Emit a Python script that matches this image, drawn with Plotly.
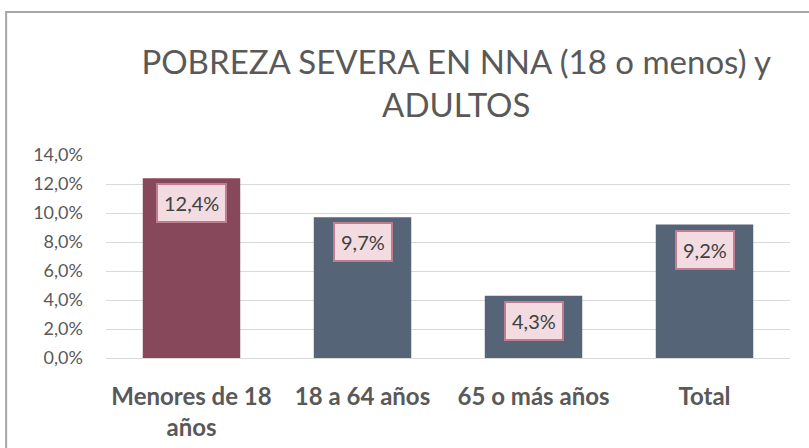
import plotly.graph_objects as go

categories = ["Menores de 18<br>años", "18 a 64 años", "65 o más años", "Total"]
values = [0.124, 0.097, 0.043, 0.092]
bar_colors = ["#86485a", "#566477", "#566477", "#566477"]
y_ticks = [0, 0.02, 0.04, 0.06, 0.08, 0.10, 0.12, 0.14]

font_family = "Lato"

fig = go.Figure()
fig.add_trace(go.Bar(
    x=categories, y=values,
    marker=dict(color=bar_colors, line=dict(width=0)),
    hoverinfo="skip",
))

for c, v in zip(categories, values):
    fig.add_annotation(
        x=c, y=v, xref="x", yref="y",
        text=f"{v*100:.1f}%".replace(".", ","),
        showarrow=False, yanchor="top", yshift=-5,
        font=dict(family=font_family, size=20, color="#404040"),
        bgcolor="#f2dce1", bordercolor="#c07d90", borderwidth=2, borderpad=6,
    )

fig.add_shape(type="rect", xref="paper", yref="paper",
              x0=-0.146, x1=1.2, y0=-0.8, y1=1.704,
              line=dict(color="#a6a6a6", width=2), fillcolor="rgba(0,0,0,0)", layer="below")

fig.update_layout(
    width=809, height=448,
    margin=dict(l=106, r=19, t=155, b=90),
    paper_bgcolor="white", plot_bgcolor="white",
    separators=",.",
    bargap=0.43,
    showlegend=False,
    font=dict(family=font_family, color="#595959"),
    title=dict(
        text="POBREZA SEVERA EN NNA (18 o menos) y<br>ADULTOS",
        x=0.564, xanchor="center", y=0.835, yanchor="middle",
        font=dict(family=font_family, size=33, color="#595959"),
    ),
    xaxis=dict(
        showgrid=False, showline=False, ticks="", ticklabelstandoff=22,
        automargin=False,
        tickfont=dict(family=font_family, size=24, color="#595959", weight="bold"),
    ),
    yaxis=dict(
        range=[0, 0.14], tickvals=y_ticks, tickformat=".1%",
        showgrid=True, gridcolor="#d9d9d9", gridwidth=1,
        zeroline=True, zerolinecolor="#d9d9d9", zerolinewidth=1,
        showline=False, ticks="", ticklabelstandoff=22, automargin=False,
        tickfont=dict(family=font_family, size=18, color="#595959"),
    ),
)

fig.write_html("out.html", config={"displayModeBar": False},
               post_script="document.body.style.margin='0';document.body.style.overflow='hidden';")
